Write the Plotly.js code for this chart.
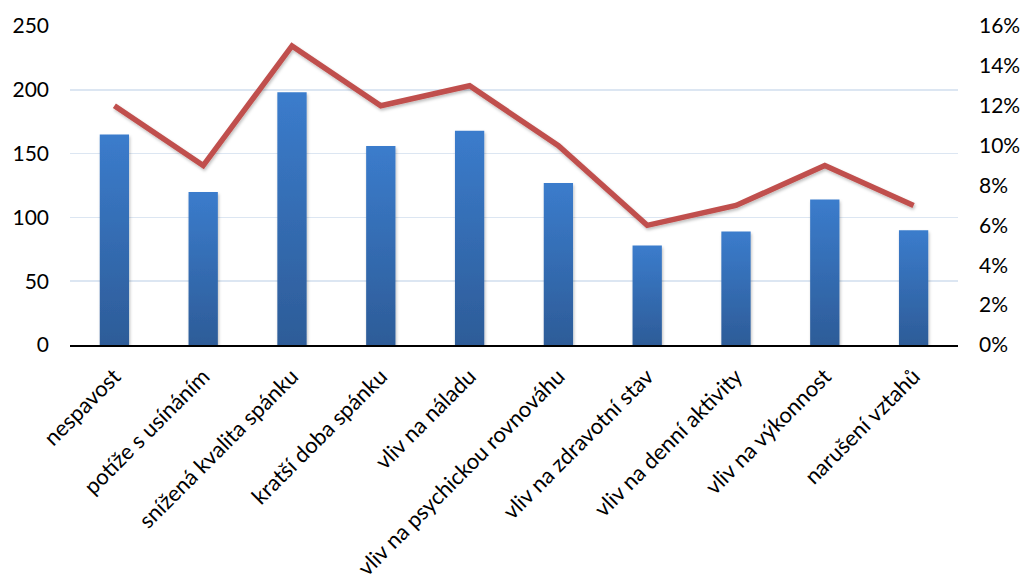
<!DOCTYPE html>
<html>
<head>
<meta charset="utf-8">
<script src="https://cdn.plot.ly/plotly-3.0.1.min.js"></script>
<style>html,body{margin:0;padding:0;background:#fff;}#chart{width:1035px;height:575px;}</style>
</head>
<body>
<div id="chart"></div>
<script>
const categories = ["nespavost","potíže s usínáním","snížená kvalita spánku","kratší doba spánku","vliv na náladu","vliv na psychickou rovnováhu","vliv na zdravotní stav","vliv na denní aktivity","vliv na výkonnost","narušení vztahů"];
const counts = [165,120,198,156,168,127,78,89,114,90];
const shares = [0.12,0.09,0.15,0.12,0.13,0.10,0.06,0.07,0.09,0.07];
const leftTicks = [0,50,100,150,200,250];
const rightTicks = [0,0.02,0.04,0.06,0.08,0.10,0.12,0.14,0.16];

const font = "Lato, 'Open Sans', sans-serif";
const data = [
  {type:'bar', x:categories, y:counts, marker:{color:'#3670B8'}, hoverinfo:'none'},
  {type:'scatter', mode:'lines', x:categories, y:shares, yaxis:'y2', line:{color:'#C0504D', width:5.5}, hoverinfo:'none'}
];
const layout = {
  width:1035, height:575,
  margin:{l:70, r:77, t:26, b:230},
  paper_bgcolor:'#fff', plot_bgcolor:'#fff',
  showlegend:false, bargap:0.67,
  font:{family:font, color:'#000'},
  xaxis:{tickangle:-45, tickfont:{size:22, family:font}, showline:true, linecolor:'#000', linewidth:2, ticks:'', showgrid:false, zeroline:false, ticklabelstandoff:8},
  yaxis:{range:[0,250], tickvals:leftTicks, tickfont:{size:21, family:font}, showgrid:true, gridcolor:'#DCE6F2', gridwidth:1.5, zeroline:false, showline:false, ticks:'', ticklabelstandoff:20},
  yaxis2:{range:[0,0.16], overlaying:'y', side:'right', tickvals:rightTicks, tickformat:'.0%', tickfont:{size:21, family:font}, showgrid:false, zeroline:false, showline:false, ticks:'', ticklabelstandoff:20}
};
Plotly.newPlot('chart', data, layout, {staticPlot:true}).then(function(gd){
  const svg = gd.querySelector('svg.main-svg');
  const ns = 'http://www.w3.org/2000/svg';
  const defs = document.createElementNS(ns,'defs');
  const g = document.createElementNS(ns,'linearGradient');
  g.setAttribute('id','barGrad'); g.setAttribute('x1','0'); g.setAttribute('y1','0'); g.setAttribute('x2','0'); g.setAttribute('y2','1');
  [['0%','#3B7CCC'],['100%','#2D5C98']].forEach(function(s){
    const st = document.createElementNS(ns,'stop'); st.setAttribute('offset',s[0]); st.setAttribute('stop-color',s[1]); g.appendChild(st);
  });
  defs.appendChild(g);
  const f = document.createElementNS(ns,'filter');
  f.setAttribute('id','shadow'); f.setAttribute('x','-10%'); f.setAttribute('y','-10%'); f.setAttribute('width','130%'); f.setAttribute('height','130%');
  const ds = document.createElementNS(ns,'feDropShadow');
  ds.setAttribute('dx','1'); ds.setAttribute('dy','2'); ds.setAttribute('stdDeviation','1.5'); ds.setAttribute('flood-color','#000'); ds.setAttribute('flood-opacity','0.25');
  f.appendChild(ds); defs.appendChild(f);
  svg.insertBefore(defs, svg.firstChild);
  gd.querySelectorAll('.bars .point path').forEach(function(p){ p.style.fill='url(#barGrad)'; p.setAttribute('filter','url(#shadow)'); });
  gd.querySelectorAll('.scatterlayer .js-line').forEach(function(p){ p.setAttribute('filter','url(#shadow)'); });
});
</script>
</body>
</html>
